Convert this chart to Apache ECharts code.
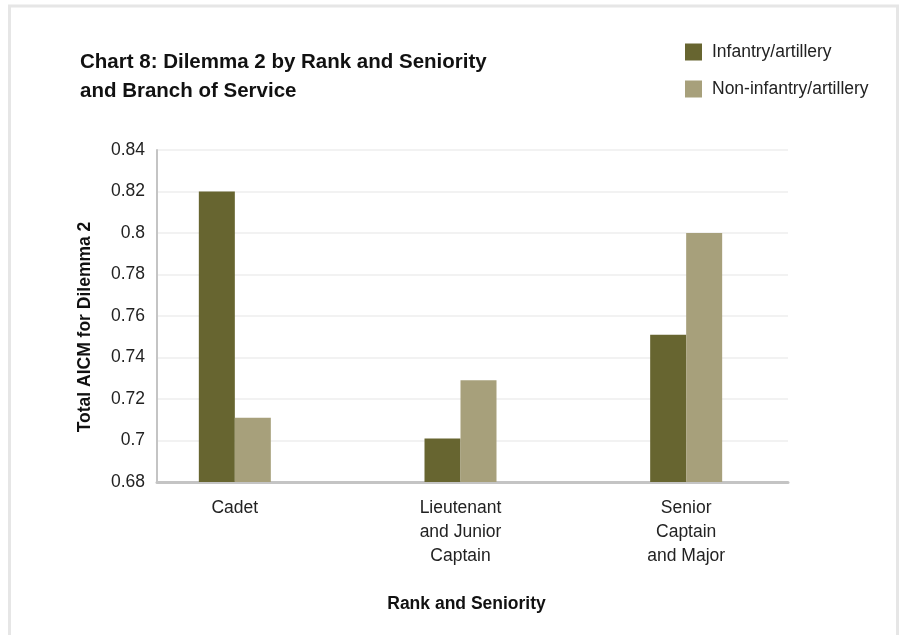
<!DOCTYPE html>
<html>
<head>
<meta charset="utf-8">
<script src="https://cdn.jsdelivr.net/npm/echarts@6/dist/echarts.min.js"></script>
<style>
html,body{margin:0;padding:0;background:#fff;}
#chart{width:899px;height:635px;}
</style>
</head>
<body>
<div id="chart"></div>
<script>
const categories = ['Cadet', 'Lieutenant\nand Junior\nCaptain', 'Senior\nCaptain\nand Major'];
const infantry = [0.820, 0.701, 0.751];
const nonInfantry = [0.711, 0.729, 0.800];
const seriesNames = ['Infantry/artillery', 'Non-infantry/artillery'];
const yTicks = { min: 0.68, max: 0.84, interval: 0.02 };

const FONT = '"Liberation Sans", Arial, Helvetica, sans-serif';
const FS = 17.5;
const chart = echarts.init(document.getElementById('chart'));
chart.setOption({
  backgroundColor: '#fff',
  animation: false,
  textStyle: { fontFamily: FONT },
  graphic: [{
    type: 'rect',
    shape: { x: 9.5, y: 6, width: 888, height: 640 },
    style: { fill: 'none', stroke: '#e6e6e6', lineWidth: 3 },
    silent: true, z: -1
  }],
  title: {
    text: 'Chart 8: Dilemma 2 by Rank and Seniority\nand Branch of Service',
    left: 75, top: 43,
    textStyle: { fontFamily: FONT, fontSize: 20.5, fontWeight: 'bold', color: '#111', lineHeight: 29 }
  },
  legend: {
    orient: 'vertical', left: 680, top: 38,
    itemWidth: 17, itemHeight: 17, itemGap: 19,
    icon: 'rect',
    data: seriesNames,
    textStyle: { fontFamily: FONT, fontSize: FS, color: '#222', padding: [0, 0, 0, 5] }
  },
  grid: [
    { left: 157, right: 111, top: 150, bottom: 153 },
    { left: 122, right: 100, top: 150, bottom: 153 }
  ],
  xAxis: [
    {
      type: 'category', gridIndex: 0, data: categories,
      axisLine: { show: true, lineStyle: { color: '#c4c4c4', width: 3 } },
      axisTick: { show: false }, axisLabel: { show: false },
      name: 'Rank and Seniority', nameLocation: 'middle', nameGap: 113,
      nameTextStyle: { fontFamily: FONT, fontSize: FS, fontWeight: 'bold', color: '#111', padding: [0, 12, 0, 0] }
    },
    {
      type: 'category', gridIndex: 1, data: categories,
      axisLine: { show: false }, axisTick: { show: false },
      axisLabel: { fontFamily: FONT, fontSize: FS, color: '#222', lineHeight: 24, margin: 14 }
    }
  ],
  yAxis: [
    {
      type: 'value', gridIndex: 0, min: yTicks.min, max: yTicks.max, interval: yTicks.interval,
      axisLine: { show: true, lineStyle: { color: '#c4c4c4', width: 2 } },
      axisTick: { show: false },
      splitLine: { show: true, lineStyle: { color: '#f2f2f2', width: 2 } },
      axisLabel: { fontFamily: FONT, fontSize: FS, color: '#222', margin: 12,
        formatter: v => String(parseFloat(v.toFixed(2))) },
      name: 'Total AICM for Dilemma 2', nameLocation: 'middle', nameGap: 63, nameRotate: 90,
      nameTextStyle: { fontFamily: FONT, fontSize: FS, fontWeight: 'bold', color: '#111', padding: [0, 0, 0, -22] }
    },
    {
      type: 'value', gridIndex: 1, min: yTicks.min, max: yTicks.max, interval: yTicks.interval,
      show: false, splitLine: { show: false }
    }
  ],
  series: [
    {
      name: seriesNames[0], type: 'bar', xAxisIndex: 1, yAxisIndex: 1,
      data: infantry, barWidth: 36, barGap: '0%',
      itemStyle: { color: '#676530' }
    },
    {
      name: seriesNames[1], type: 'bar', xAxisIndex: 1, yAxisIndex: 1,
      data: nonInfantry, barWidth: 36, barGap: '0%',
      itemStyle: { color: '#a7a07b' }
    }
  ]
});
</script>
</body>
</html>
